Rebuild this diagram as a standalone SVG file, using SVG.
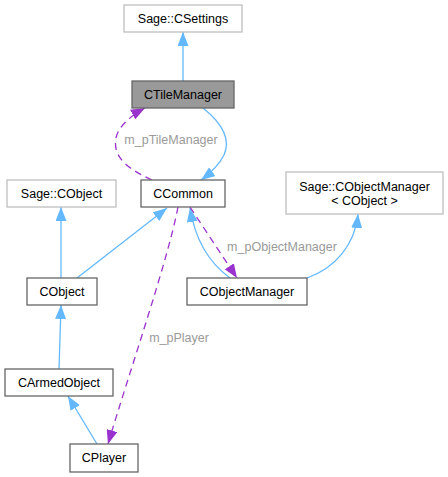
<svg xmlns="http://www.w3.org/2000/svg" width="448" height="477" viewBox="0 0 448 477">
<style>
text{font-family:"Liberation Sans",Arial,sans-serif;font-size:12.5px;text-anchor:middle;fill:#000}
.lbl{fill:#9a9a9a}
.box{fill:#fff;stroke:#666;stroke-width:1.3}
.ext{fill:#fff;stroke:#bfbfbf;stroke-width:1.3}
.cur{fill:#999;stroke:#666;stroke-width:1.3}
.inh{fill:none;stroke:#63b8ff;stroke-width:1.3;marker-end:url(#ab)}
.use{fill:none;stroke:#9a32cd;stroke-width:1.3;stroke-dasharray:7,5;marker-end:url(#ap)}
</style>
<defs>
<marker id="ab" markerUnits="userSpaceOnUse" markerWidth="14" markerHeight="11" refX="14" refY="5.5" orient="auto"><path d="M0,0L14,5.5L0,11z" fill="#63b8ff"/></marker>
<marker id="ap" markerUnits="userSpaceOnUse" markerWidth="14" markerHeight="11" refX="14" refY="5.5" orient="auto"><path d="M0,0L14,5.5L0,11z" fill="#9a32cd"/></marker>
</defs>
<g id="edges">
<path class="inh" d="M183,81L183,32"/>
<path class="inh" d="M203,108C218,120 232,137 224,155C219,165 212,172 201,180"/>
<path class="use" d="M152,180C130,170 112,158 116,138C118,127 130,116 145,108"/>
<path class="inh" d="M77,278L167,208"/>
<path class="inh" d="M61,278L61,207"/>
<path class="use" d="M178,207C168,260 130,370 108,444"/>
<path class="inh" d="M230,278C212,265 196,245 190,208"/>
<path class="use" d="M190,207L237,278"/>
<path class="inh" d="M307,278C335,268 355,245 358,214"/>
<path class="inh" d="M59,369L61,305"/>
<path class="inh" d="M97,444L68,396"/>
<text class="lbl" x="171" y="144">m_pTileManager</text>
<text class="lbl" x="282" y="251">m_pObjectManager</text>
<text class="lbl" x="179" y="342">m_pPlayer</text>
</g>
<g id="SageCSettings"><rect class="ext" x="124" y="5" width="118" height="27"/><text x="183" y="23">Sage::CSettings</text></g>
<g id="CTileManager"><rect class="cur" x="132" y="81" width="102" height="27"/><text x="183" y="99">CTileManager</text></g>
<g id="CCommon"><rect class="box" x="141" y="180" width="84" height="27"/><text x="183" y="198">CCommon</text></g>
<g id="SageCObject"><rect class="ext" x="7" y="180" width="109" height="27"/><text x="61.5" y="198">Sage::CObject</text></g>
<g id="SageCObjectManager"><rect class="ext" x="286" y="172" width="157" height="42"/><text x="364.5" y="191">Sage::CObjectManager</text><text x="364.5" y="205">&lt; CObject &gt;</text></g>
<g id="CObject"><rect class="box" x="27" y="278" width="70" height="27"/><text x="62" y="296">CObject</text></g>
<g id="CObjectManager"><rect class="box" x="187" y="278" width="120" height="27"/><text x="247" y="296">CObjectManager</text></g>
<g id="CArmedObject"><rect class="box" x="5" y="369" width="108" height="27"/><text x="59" y="387">CArmedObject</text></g>
<g id="CPlayer"><rect class="box" x="70" y="444" width="68" height="28"/><text x="104" y="462">CPlayer</text></g>
</svg>
